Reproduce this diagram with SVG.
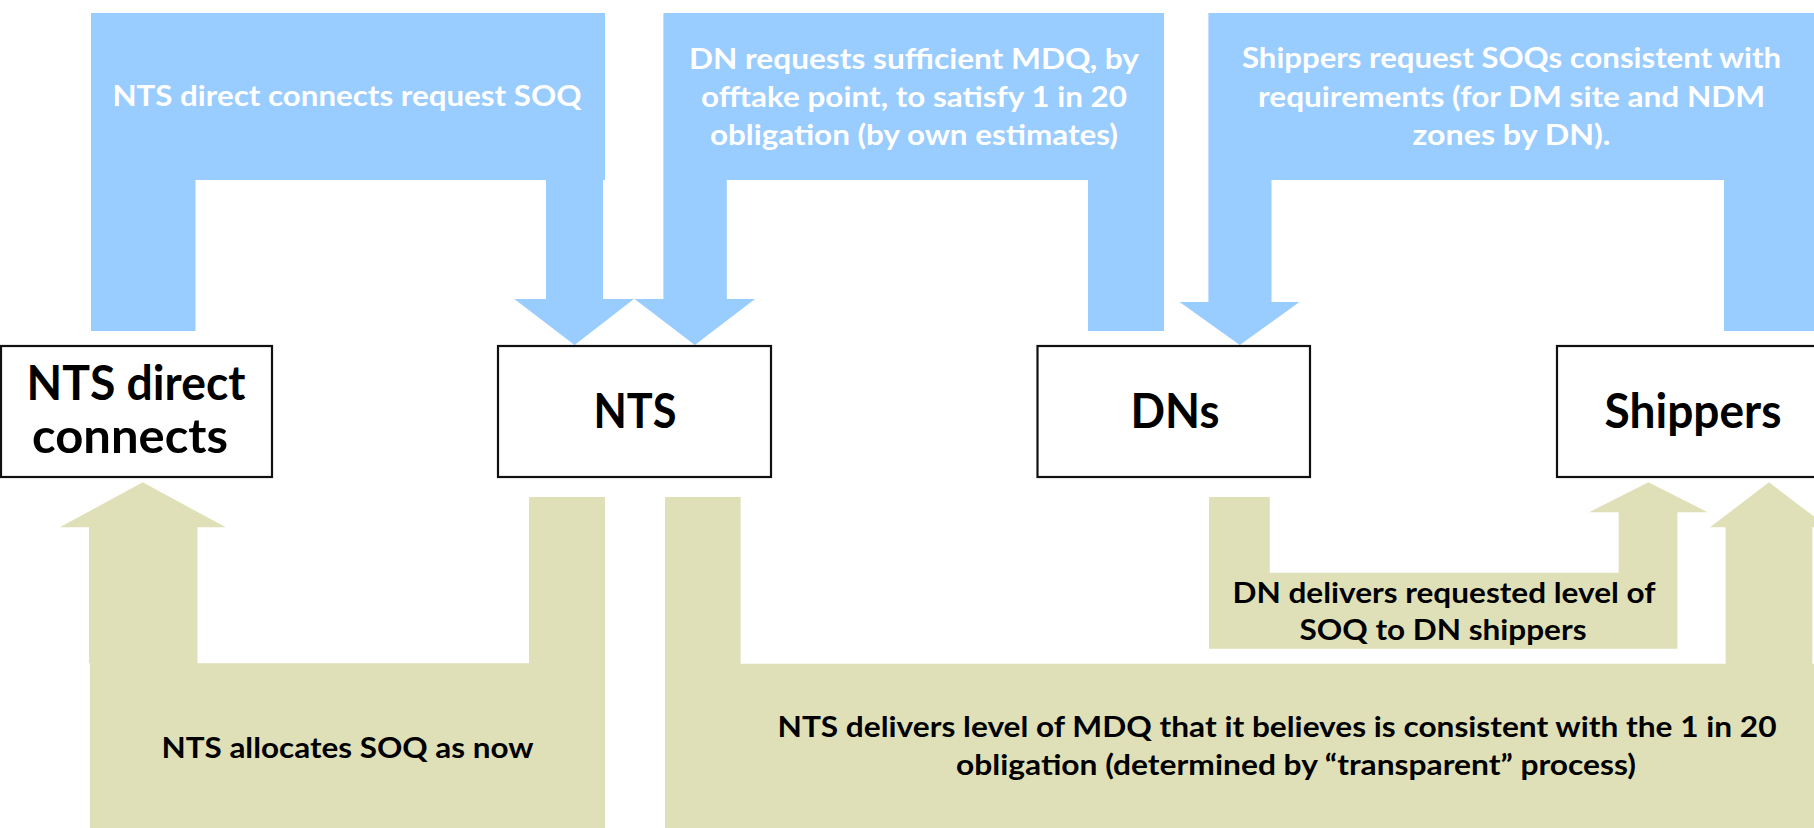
<svg xmlns="http://www.w3.org/2000/svg" width="1814" height="828" viewBox="0 0 1814 828">
<style>
.blue{fill:#99CCFF}
.olive{fill:#DFE0B7}
.box{fill:#fff;stroke:#111;stroke-width:2.2}
.t{font-family:Lato,"Open Sans","Liberation Sans",sans-serif;font-weight:bold;text-anchor:middle}
.wt{fill:#fff;font-size:29px}
.bt{fill:#000;font-size:29px}
.hd{fill:#000;font-size:48px}
</style>
<rect width="1814" height="828" fill="#fff"/>
<g id="connectors">
<g id="req-dc">
<path class="blue" d="M91,13 H605 V180 H603 V299 H634 L574.5,345 L514.3,299 H546 V180 H195.5 V331 H91 Z"/>
<text class="t wt" x="347" y="106" textLength="469" lengthAdjust="spacingAndGlyphs">NTS direct connects request SOQ</text>
</g>
<g id="req-dn">
<path class="blue" d="M663.4,13 H1164 V331 H1088 V180 H726.8 V299 H755 L694.8,345 L634.6,299 H663.4 Z"/>
<text class="t wt" x="914" y="69" textLength="450" lengthAdjust="spacingAndGlyphs">DN requests sufficient MDQ, by</text>
<text class="t wt" x="914" y="107" textLength="426" lengthAdjust="spacingAndGlyphs">offtake point, to satisfy 1 in 20</text>
<text class="t wt" x="914" y="145" textLength="408" lengthAdjust="spacingAndGlyphs">obligation (by own estimates)</text>
</g>
<g id="req-sh">
<path class="blue" d="M1208.4,13 H1830 V331 H1724 V180 H1271.5 V302 H1299.5 L1239.8,345 L1179.6,302 H1208.4 Z"/>
<text class="t wt" x="1511.5" y="68" textLength="539" lengthAdjust="spacingAndGlyphs">Shippers request SOQs consistent with</text>
<text class="t wt" x="1511.5" y="107" textLength="507" lengthAdjust="spacingAndGlyphs">requirements (for DM site and NDM</text>
<text class="t wt" x="1511.5" y="145" textLength="198" lengthAdjust="spacingAndGlyphs">zones by DN).</text>
</g>
<g id="alloc-dc">
<path class="olive" d="M529,497 H605 V830 H90 V663.3 H89 V527.3 H59.8 L142.7,482.3 L225.8,527.3 H197.5 V663.3 H529 Z"/>
<text class="t bt" x="347.5" y="758" textLength="372" lengthAdjust="spacingAndGlyphs">NTS allocates SOQ as now</text>
</g>
<g id="deliver-nts">
<path class="olive" d="M665,497 H740.6 V663.7 H1725.6 V527.3 H1710 L1769,482.3 L1828,527.3 H1812.4 V663.7 H1830 V830 H665 Z"/>
<text class="t bt" x="1277" y="737" textLength="999" lengthAdjust="spacingAndGlyphs">NTS delivers level of MDQ that it believes is consistent with the 1 in 20</text>
<text class="t bt" x="1296" y="775" textLength="680" lengthAdjust="spacingAndGlyphs">obligation (determined by “transparent” process)</text>
</g>
<g id="deliver-dn">
<path class="olive" d="M1209,497 H1269.8 V572.7 H1618.7 V512.3 H1589 L1648.4,482.3 L1707.8,512.3 H1677.4 V648.7 H1209 Z"/>
<text class="t bt" x="1444" y="602.5" textLength="423" lengthAdjust="spacingAndGlyphs">DN delivers requested level of</text>
<text class="t bt" x="1443" y="640" textLength="287" lengthAdjust="spacingAndGlyphs">SOQ to DN shippers</text>
</g>
</g>
<g id="node-dc">
<rect class="box" x="1" y="346" width="271" height="131"/>
<text class="t hd" x="136" y="400" textLength="219" lengthAdjust="spacingAndGlyphs">NTS direct</text>
<text class="t hd" x="130" y="453" textLength="196" lengthAdjust="spacingAndGlyphs">connects</text>
</g>
<g id="node-nts">
<rect class="box" x="498" y="346" width="273" height="131"/>
<text class="t hd" x="635" y="428" textLength="83" lengthAdjust="spacingAndGlyphs">NTS</text>
</g>
<g id="node-dns">
<rect class="box" x="1037.5" y="346" width="272.5" height="131"/>
<text class="t hd" x="1175" y="428" textLength="89" lengthAdjust="spacingAndGlyphs">DNs</text>
</g>
<g id="node-shippers">
<rect class="box" x="1557" y="346" width="273" height="131"/>
<text class="t hd" x="1693" y="428" textLength="177" lengthAdjust="spacingAndGlyphs">Shippers</text>
</g>
</svg>
